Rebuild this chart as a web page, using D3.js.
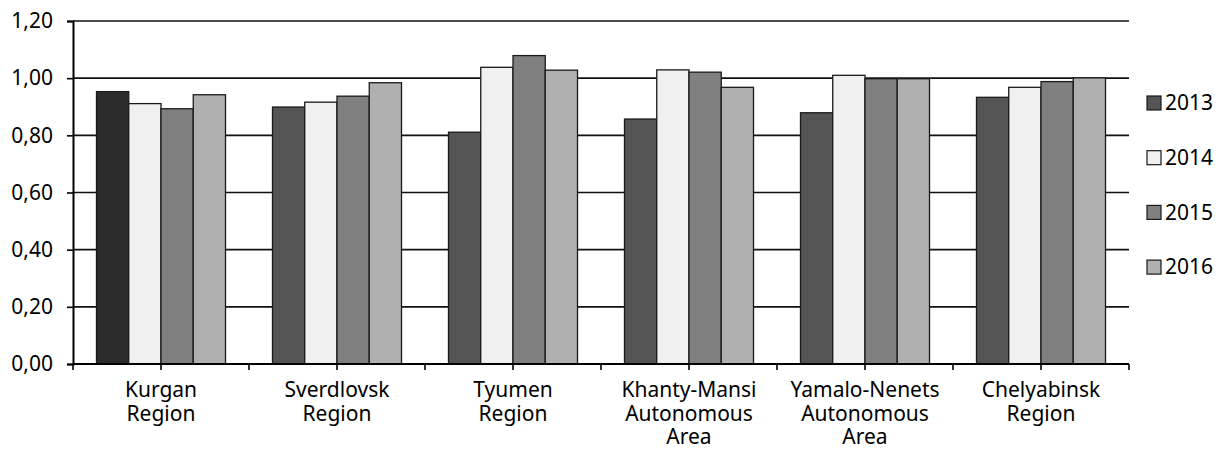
<!DOCTYPE html>
<html>
<head>
<meta charset="utf-8">
<script src="https://cdn.jsdelivr.net/npm/d3@7"></script>
<style>
  html, body { margin: 0; padding: 0; background: #fff; }
  svg { display: block; font-family: "Noto Sans", "Open Sans", sans-serif; }
</style>
</head>
<body>
<svg id="chart" width="1223" height="454"></svg>
<script>
const categories = [
  ["Kurgan", "Region"],
  ["Sverdlovsk", "Region"],
  ["Tyumen", "Region"],
  ["Khanty-Mansi", "Autonomous", "Area"],
  ["Yamalo-Nenets", "Autonomous", "Area"],
  ["Chelyabinsk", "Region"]
];
const seriesNames = ["2013", "2014", "2015", "2016"];
const values2013 = [0.953, 0.899, 0.811, 0.857, 0.879, 0.933];
const values2014 = [0.911, 0.916, 1.038, 1.029, 1.010, 0.968];
const values2015 = [0.893, 0.937, 1.079, 1.021, 0.998, 0.988];
const values2016 = [0.942, 0.984, 1.028, 0.968, 0.998, 1.001];
const yTicks = [0, 0.2, 0.4, 0.6, 0.8, 1.0, 1.2];

const seriesValues = [values2013, values2014, values2015, values2016];
const colors = ["#545454", "#f0f0f0", "#808080", "#b0b0b0"];
const specialFill = { "0-0": "#2c2c2c" }; // Kurgan 2013 drawn darker in the original

const svg = d3.select("#chart");
const mLeft = 73, mRight = 1129, mTop = 21, mBottom = 364;
const fontSize = 21;

const x0 = d3.scaleBand().domain(d3.range(categories.length))
  .range([mLeft, mRight]).paddingInner(0.267).paddingOuter(0.1335);
const x1 = d3.scaleBand().domain(d3.range(seriesNames.length))
  .range([0, x0.bandwidth()]).padding(0);
const y = d3.scaleLinear().domain([0, 1.2]).range([mBottom, mTop]);

// gridlines
svg.append("g").selectAll("line").data(yTicks.filter(d => d > 0)).join("line")
  .attr("x1", mLeft).attr("x2", mRight)
  .attr("y1", d => y(d)).attr("y2", d => y(d))
  .attr("stroke", "#111").attr("stroke-width", 1.6);

// bars
const groups = svg.append("g").selectAll("g").data(categories).join("g")
  .attr("transform", (d, i) => `translate(${x0(i)},0)`);
groups.selectAll("rect").data((d, i) => seriesValues.map((s, j) => ({ i, j, v: s[i] }))).join("rect")
  .attr("x", d => x1(d.j))
  .attr("y", d => y(d.v))
  .attr("width", x1.bandwidth())
  .attr("height", d => y(0) - y(d.v))
  .attr("fill", d => specialFill[`${d.i}-${d.j}`] || colors[d.j])
  .attr("stroke", "#1a1a1a").attr("stroke-width", 1.3);

// y axis
const yAxis = d3.axisLeft(y).tickValues(yTicks).tickSize(6).tickPadding(14)
  .tickFormat(d => d3.format(".2f")(d).replace(".", ","));
const ya = svg.append("g").attr("transform", `translate(${mLeft},0)`).call(yAxis);
ya.select(".domain").attr("stroke", "#000").attr("stroke-width", 2);
ya.selectAll(".tick line").attr("stroke", "#000").attr("stroke-width", 1.6);
ya.selectAll(".tick text").attr("font-size", fontSize).attr("fill", "#000")
  .attr("font-family", "'Noto Sans', sans-serif");

// x axis line
svg.append("line").attr("x1", mLeft).attr("x2", mRight)
  .attr("y1", mBottom).attr("y2", mBottom)
  .attr("stroke", "#000").attr("stroke-width", 2);

// x ticks at boundaries and centers
const step = x0.step();
const xTickPos = d3.range(categories.length * 2 + 1).map(k => mLeft + k * step / 2);
svg.append("g").selectAll("line").data(xTickPos).join("line")
  .attr("x1", d => d).attr("x2", d => d)
  .attr("y1", mBottom).attr("y2", mBottom + 6)
  .attr("stroke", "#000").attr("stroke-width", 1.6);

// category labels
const labels = svg.append("g").selectAll("text").data(categories).join("text")
  .attr("text-anchor", "middle")
  .attr("font-size", fontSize).attr("fill", "#000")
  .attr("x", (d, i) => x0(i) + x0.bandwidth() / 2)
  .attr("y", 397);
labels.selectAll("tspan").data(d => d).join("tspan")
  .attr("x", function () { return d3.select(this.parentNode).attr("x"); })
  .attr("dy", (d, k) => k === 0 ? 0 : 23.5)
  .text(d => d);

// legend
const legend = svg.append("g").selectAll("g").data(seriesNames).join("g")
  .attr("transform", (d, i) => `translate(1147,${103 + i * 54.7})`);
legend.append("rect").attr("x", 0).attr("y", -7).attr("width", 14).attr("height", 14)
  .attr("fill", (d, i) => colors[i]).attr("stroke", "#1a1a1a").attr("stroke-width", 1.2);
legend.append("text").attr("x", 18).attr("y", 0).attr("dy", "0.35em")
  .attr("font-size", fontSize).attr("fill", "#000").text(d => d);
</script>
</body>
</html>
